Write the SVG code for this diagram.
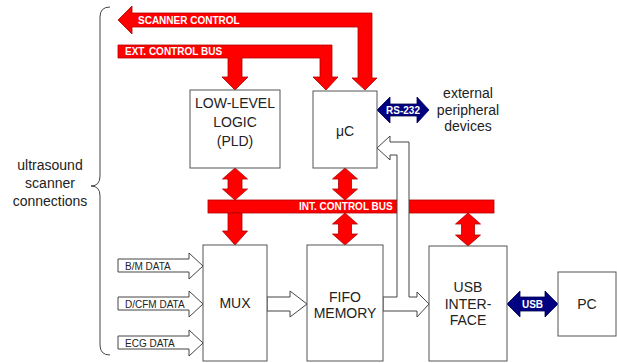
<svg xmlns="http://www.w3.org/2000/svg" width="617" height="363" viewBox="0 0 617 363">
<style>
.box{fill:#fff;stroke:#555;stroke-width:1}
.red{fill:#ff0000;stroke:#b00000;stroke-width:0.8}
.navy{fill:#000080;stroke:#000050;stroke-width:0.8}
.hol{fill:#fff;stroke:#444;stroke-width:1}
.t{font-family:"Liberation Sans",Arial,sans-serif;font-size:14px;fill:#222;text-anchor:middle}
.w{font-family:"Liberation Sans",Arial,sans-serif;font-size:10px;font-weight:bold;fill:#fff}
.d{font-family:"Liberation Sans",Arial,sans-serif;font-size:10px;fill:#222}
</style>
<g id="brace">
<path d="M110,7 Q100,7 100,17 L100,176 Q100,186 91,186 Q100,186 100,196 L100,345 Q100,355 110,355" fill="none" stroke="#444" stroke-width="1"/>
<text class="t" x="50" y="170">ultrasound</text>
<text class="t" x="50" y="188">scanner</text>
<text class="t" x="50" y="206">connections</text>
</g>
<g id="connectors">
<polygon class="red" points="118,20 132,6 132,13 372,13 372,78 377,78 365,90 352,78 358,78 358,27 132,27 132,34"/>
<text class="w" x="138" y="23.5">SCANNER CONTROL</text>
<polygon class="red" points="118,45 332,45 332,77 338,77 326,90 313,77 320,77 320,58 242,58 242,77 248,77 235,90 222,77 228,77 228,58 118,58"/>
<text class="w" x="125" y="55">EXT. CONTROL BUS</text>
<rect class="red" x="208" y="200" width="286" height="13"/>
<text class="w" x="299" y="210">INT. CONTROL BUS</text>
<polygon class="red" points="235,168 247.5,179 242,179 242,189 247.5,189 235,200 222.5,189 228,189 228,179 222.5,179"/>
<polygon class="red" points="345,168 357.5,179 351.5,179 351.5,189 357.5,189 345,200 332.5,189 338.5,189 338.5,179 332.5,179"/>
<polygon class="red" points="228,213 242,213 242,231 247.5,231 235,245 222.5,231 228,231"/>
<polygon class="red" points="345,213 357.5,224 351.5,224 351.5,234 357.5,234 345,245 332.5,234 338.5,234 338.5,224 332.5,224"/>
<polygon class="red" points="468,213 480.5,224 474.5,224 474.5,235 480.5,235 468,246 455.5,235 461.5,235 461.5,224 455.5,224"/>
<polygon class="navy" points="377,110 390,97 390,104 417,104 417,97 429,110 417,123 417,116 390,116 390,123"/>
<text class="w" x="403" y="113.5" text-anchor="middle">RS-232</text>
<polygon class="navy" points="507,304 520,291 520,297 545,297 545,291 558,304 545,317 545,311 520,311 520,317"/>
<text class="w" x="532.5" y="307.5" text-anchor="middle">USB</text>
<polygon class="hol" points="383,297 397,297 397,155 390,155 390,160 377,148 390,136 390,142 409,142 409,297 417,297 417,292 429,304 417,317 417,311 383,311"/>
<polygon class="hol" points="267,297 290,297 290,291 307,304 290,317 290,311 267,311"/>
<polygon class="hol" points="118,259 189,259 189,253 203,266 189,279 189,272 118,272"/>
<text class="d" x="125" y="269.5">B/M DATA</text>
<polygon class="hol" points="118,297 189,297 189,291 203,304 189,317 189,310 118,310"/>
<text class="d" x="125" y="307.5">D/CFM DATA</text>
<polygon class="hol" points="118,336 189,336 189,330 203,343 189,356 189,349 118,349"/>
<text class="d" x="125" y="346.5">ECG DATA</text>
</g>
<g id="pld">
<rect class="box" x="190" y="90" width="90" height="78"/>
<text class="t" x="235" y="108">LOW-LEVEL</text>
<text class="t" x="235" y="127">LOGIC</text>
<text class="t" x="235" y="146">(PLD)</text>
</g>
<g id="uc">
<rect class="box" x="313" y="91" width="64" height="77"/>
<text class="t" x="345" y="136">μC</text>
</g>
<g id="ext">
<text class="t" x="468" y="98">external</text>
<text class="t" x="468" y="115">peripheral</text>
<text class="t" x="468" y="131">devices</text>
</g>
<g id="mux">
<rect class="box" x="203" y="245" width="64" height="116"/>
<text class="t" x="235" y="308">MUX</text>
</g>
<g id="fifo">
<rect class="box" x="307" y="245" width="76" height="116"/>
<text class="t" x="345" y="302">FIFO</text>
<text class="t" x="345" y="318">MEMORY</text>
</g>
<g id="usbif">
<rect class="box" x="429" y="246" width="78" height="115"/>
<text class="t" x="468" y="292">USB</text>
<text class="t" x="468" y="309">INTER-</text>
<text class="t" x="468" y="325">FACE</text>
</g>
<g id="pc">
<rect class="box" x="558" y="272" width="58" height="64"/>
<text class="t" x="587" y="309">PC</text>
</g>
</svg>
